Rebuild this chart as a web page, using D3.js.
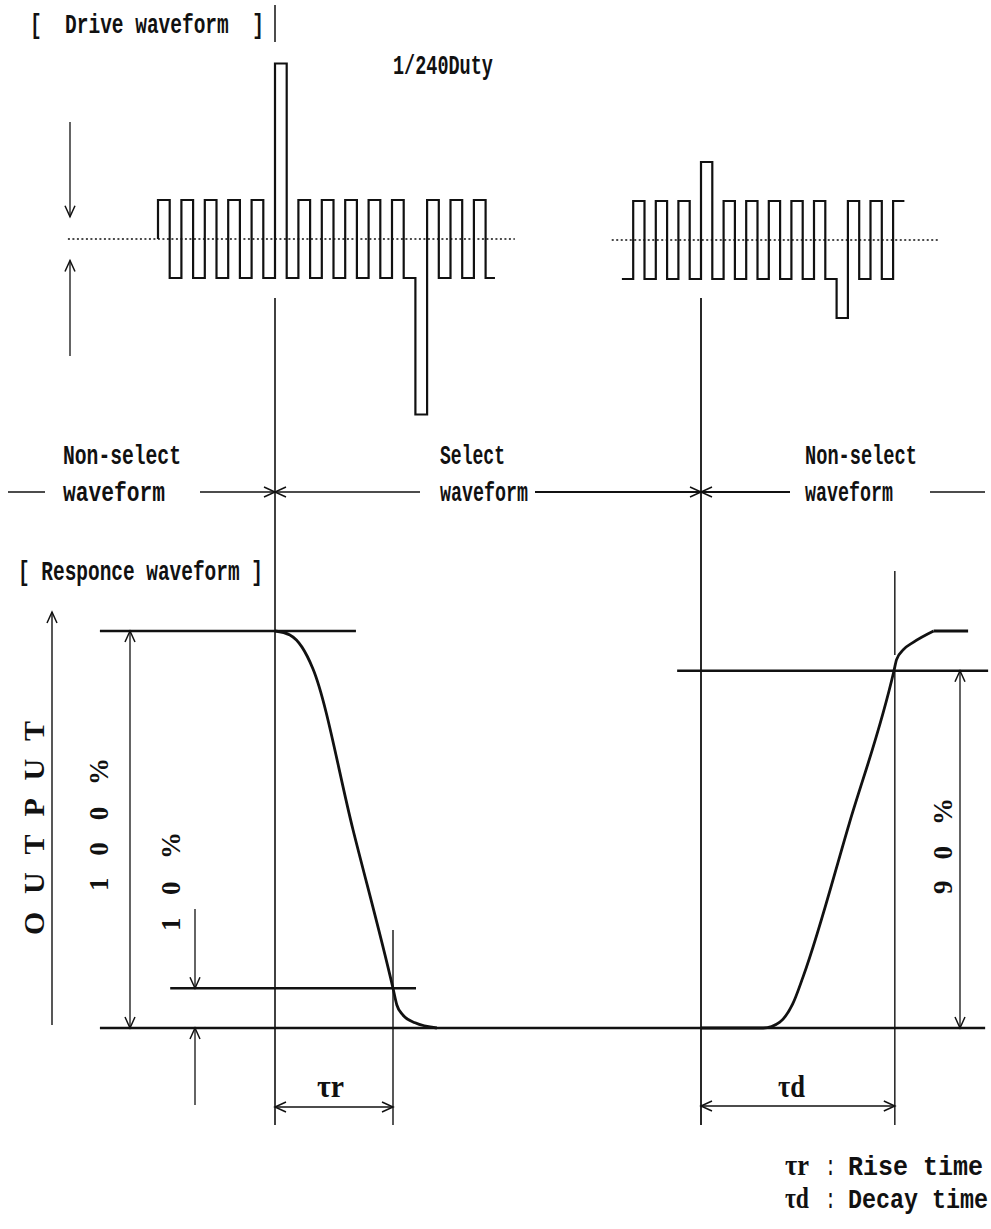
<!DOCTYPE html>
<html>
<head>
<meta charset="utf-8">
<script src="https://cdn.jsdelivr.net/npm/d3@7"></script>
<style>
  body { margin: 0; background: #fff; }
  svg { display: block; }
  .mono { font-family: "Liberation Mono", "DejaVu Sans Mono", monospace; font-weight: bold; fill: #111; white-space: pre; }
  .serif { font-family: "Liberation Serif", serif; font-weight: bold; fill: #111; }
</style>
</head>
<body>
<svg id="chart" width="991" height="1229"></svg>
<script>
// ---- drive waveform: one level per half period (units of the non-select amplitude)
const leftDriveLead = 0;
const leftDriveStart = 0;
const leftDriveEnd = 28.8;
const leftDriveLevels = [1, -1, 1, -1, 1, -1, 1, -1, 1, -1, 4.5,
  -1, 1, -1, 1, -1, 1, -1, 1, -1, 1, -1, -4.5,
  1, -1, 1, -1, 1, -1];
const leftMidline = [-7.7, 30.5];

const rightDriveStart = 3;
const rightDriveEnd = 28;
const rightDriveLevels = [-1, 1, -1, 1, -1, 1, -1, 2,
  -1, 1, -1, 1, -1, 1, -1, 1, -1, 1, -1, -2,
  1, -1, 1, -1, 1];
const rightMidline = [2.1, 31];

// ---- responce waveform (time: select period = 0..100, output: 0..1)
const fallCurve = [[0, 1], [3.5, 0.99], [6.3, 0.96], [8.9, 0.905], [18.3, 0.5], [27.7, 0.1],
  [28.6, 0.058], [30, 0.033], [32.9, 0.013], [38, 0]];
const riseCurve = [[100, 0], [114.6, 0], [118.5, 0.015], [121.5, 0.06], [124, 0.13], [134.8, 0.515],
  [145.3, 0.9], [145.9, 0.928], [147.5, 0.953], [149.9, 0.972], [154.6, 1]];
const riseTop = [[154.6, 1], [162.7, 1]];
const levelLines = [
  { from: -41.1, to: 19, value: 1 },
  { from: -24.6, to: 33.1, value: 0.1 },
  { from: 94.4, to: 167.4, value: 0.9 },
  { from: -41.1, to: 166.7, value: 0 }
];
const tauR = [0, 27.7];
const tauD = [100, 145.5];

const sectionLabels = ['Non-select', 'Select', 'Non-select'];
const legendItems = [
  { sym: 'τr', text: 'Rise time' },
  { sym: 'τd', text: 'Decay time' }
];

const ink = '#111';
const svg = d3.select('#chart');

const xLeft = d3.scaleLinear().domain([0, 28]).range([158, 485.6]);
const xRight = d3.scaleLinear().domain([10, 28]).range([701, 904.4]);
const yLeft = d3.scaleLinear().domain([-1, 1]).range([278, 200]);
const yRight = d3.scaleLinear().domain([-1, 1]).range([279, 201]);
const xResp = d3.scaleLinear().domain([0, 100]).range([275, 701]);
const yResp = d3.scaleLinear().domain([0, 1]).range([1028, 631]);

function line(g, x1, y1, x2, y2, w) {
  return g.append('line')
    .attr('x1', x1).attr('y1', y1).attr('x2', x2).attr('y2', y2)
    .attr('stroke', ink).attr('stroke-width', w || 1.4);
}

function arrowHead(g, x, y, dir) {
  const back = { up: [0, 1], down: [0, -1], left: [1, 0], right: [-1, 0] }[dir];
  const len = 11, half = 5;
  const p = d3.path();
  p.moveTo(x + back[0] * len - back[1] * half, y + back[1] * len + back[0] * half);
  p.lineTo(x, y);
  p.lineTo(x + back[0] * len + back[1] * half, y + back[1] * len - back[0] * half);
  g.append('path').attr('d', p.toString()).attr('fill', 'none')
    .attr('stroke', ink).attr('stroke-width', 1.5);
}

// tall narrow typewriter text: squeeze horizontally to the width seen in the drawing
function squeezed(g, cls, x, y, str, len, size) {
  const t = g.append('text').attr('class', cls)
    .attr('font-size', size)
    .text(str);
  const natural = t.node().getComputedTextLength();
  t.attr('transform', `translate(${x},${y}) scale(${len / natural},1)`);
  return t;
}
function monoText(g, x, y, str, len, size) {
  return squeezed(g, 'mono', x, y, str, len, size || 27);
}

function vText(g, x, yBottom, str, len, size) {
  return g.append('text').attr('class', 'serif')
    .attr('transform', `translate(${x},${yBottom}) rotate(-90)`)
    .attr('font-size', size)
    .attr('textLength', len).attr('lengthAdjust', 'spacing')
    .text(str);
}

// ================= drive waveform =================
const drive = svg.append('g');
monoText(drive, 30, 33, '[  Drive waveform  ]', 234);
monoText(drive, 393, 74, '1/240Duty', 100);
line(drive, xResp(0), 5, xResp(0), 42, 1.5);

function drivePoints(start, end, levels, lead) {
  const pts = [];
  if (lead !== undefined) pts.push([start, lead]);
  levels.forEach((v, i) => pts.push([start + i, v]));
  pts.push([end, levels[levels.length - 1]]);
  return pts;
}

const stepLine = (xs, ys) => d3.line()
  .x(d => xs(d[0])).y(d => ys(d[1]))
  .curve(d3.curveStepAfter);

// midlines (dotted)
drive.append('line')
  .attr('x1', xLeft(leftMidline[0])).attr('x2', xLeft(leftMidline[1]))
  .attr('y1', yLeft(0)).attr('y2', yLeft(0))
  .attr('stroke', ink).attr('stroke-width', 1.7).attr('stroke-dasharray', '2,2.5');
drive.append('line')
  .attr('x1', xRight(rightMidline[0])).attr('x2', xRight(rightMidline[1]))
  .attr('y1', yRight(0)).attr('y2', yRight(0))
  .attr('stroke', ink).attr('stroke-width', 1.7).attr('stroke-dasharray', '2,2.5');

drive.append('path')
  .datum(drivePoints(leftDriveStart, leftDriveEnd, leftDriveLevels, leftDriveLead))
  .attr('d', stepLine(xLeft, yLeft))
  .attr('fill', 'none').attr('stroke', ink).attr('stroke-width', 2.2);
drive.append('path')
  .datum(drivePoints(rightDriveStart, rightDriveEnd, rightDriveLevels))
  .attr('d', stepLine(xRight, yRight))
  .attr('fill', 'none').attr('stroke', ink).attr('stroke-width', 2.2);

// amplitude arrows
line(drive, 70, yLeft(3), 70, yLeft(0.57), 1.3);
arrowHead(drive, 70, yLeft(0.57), 'down');
line(drive, 70, yLeft(-3), 70, yLeft(-0.55), 1.3);
arrowHead(drive, 70, yLeft(-0.55), 'up');

// ================= select / non-select =================
const mid = svg.append('g');
const labelX = [63, 440, 805];
const labelLen = [118, 65, 112];
const waveLen = [102, 88, 88];
sectionLabels.forEach((s, i) => {
  monoText(mid, labelX[i], 464, s, labelLen[i]);
  monoText(mid, labelX[i], 501, 'waveform', waveLen[i]);
});
const yArrow = 492;
line(mid, 8, yArrow, 45, yArrow, 1.6);
line(mid, 200, yArrow, xResp(0), yArrow, 1.6);
arrowHead(mid, xResp(0), yArrow, 'right');
line(mid, xResp(0), yArrow, 420, yArrow, 1.6);
arrowHead(mid, xResp(0), yArrow, 'left');
line(mid, 535, yArrow, xResp(100), yArrow, 1.8);
arrowHead(mid, xResp(100), yArrow, 'right');
line(mid, xResp(100), yArrow, 790, yArrow, 1.8);
arrowHead(mid, xResp(100), yArrow, 'left');
line(mid, 930, yArrow, 985, yArrow, 1.6);

// long dividers
line(svg, xResp(0), 298, xResp(0), 1125, 1.6);
line(svg, xResp(100), 298, xResp(100), 1125, 1.8);

// ================= responce waveform =================
const resp = svg.append('g');
monoText(resp, 18, 580, '[ Responce waveform ]', 245);

levelLines.forEach(l => {
  line(resp, xResp(l.from), yResp(l.value), xResp(l.to), yResp(l.value), 2.4);
});

const curve = d3.line()
  .x(d => xResp(d[0])).y(d => yResp(d[1]))
  .curve(d3.curveMonotoneX);
resp.append('path').datum(fallCurve).attr('d', curve)
  .attr('fill', 'none').attr('stroke', ink).attr('stroke-width', 2.8);
resp.append('path').datum(riseCurve).attr('d', curve)
  .attr('fill', 'none').attr('stroke', ink).attr('stroke-width', 2.8);
resp.append('path').datum(riseTop).attr('d', d3.line().x(d => xResp(d[0])).y(d => yResp(d[1])))
  .attr('fill', 'none').attr('stroke', ink).attr('stroke-width', 2.8);

// markers at 10% / 90% crossing
line(resp, xResp(tauR[1]), 930, xResp(tauR[1]), 1125, 1.4);
line(resp, xResp(tauD[1]), 571, xResp(tauD[1]), 655, 1.4);
line(resp, xResp(tauD[1]), yResp(0.9), xResp(tauD[1]), 1125, 1.4);

// OUTPUT axis arrow
const xOut = 52;
line(resp, xOut, 1025, xOut, 612, 1.4);
arrowHead(resp, xOut, 612, 'up');
vText(resp, 44, 935, 'OUTPUT', 214, 30);

// 100 % dimension
const x100 = 130;
line(resp, x100, yResp(1), x100, yResp(0), 1.3);
arrowHead(resp, x100, yResp(1), 'up');
arrowHead(resp, x100, yResp(0), 'down');
vText(resp, 108, 891, '100%', 133, 27);

// 10 % dimension
const x10 = 195;
line(resp, x10, 909, x10, yResp(0.1), 1.3);
arrowHead(resp, x10, yResp(0.1), 'down');
line(resp, x10, 1105, x10, yResp(0), 1.3);
arrowHead(resp, x10, yResp(0), 'up');
vText(resp, 180, 931, '10%', 99, 27);

// 90 % dimension
const x90 = 960;
line(resp, x90, yResp(0.9), x90, yResp(0), 1.3);
arrowHead(resp, x90, yResp(0.9), 'up');
arrowHead(resp, x90, yResp(0), 'down');
vText(resp, 952, 894, '90%', 96, 27);

// tau arrows
function tauArrow(range, y, label, lx) {
  line(resp, xResp(range[0]), y, xResp(range[1]), y, 1.6);
  arrowHead(resp, xResp(range[0]), y, 'left');
  arrowHead(resp, xResp(range[1]), y, 'right');
  squeezed(resp, 'serif', lx, 1097, label, 27, 32);
}
tauArrow(tauR, 1107, 'τr', 317);
tauArrow(tauD, 1106, 'τd', 778);

// legend
const legend = svg.append('g');
const legendY = [1175, 1208];
const legendLen = [135, 140];
legendItems.forEach((d, i) => {
  squeezed(legend, 'serif', 785, legendY[i], d.sym, 24, 30);
  monoText(legend, 826, legendY[i], ':', 9);
  monoText(legend, 848, legendY[i], d.text, legendLen[i]);
});
</script>
</body>
</html>
